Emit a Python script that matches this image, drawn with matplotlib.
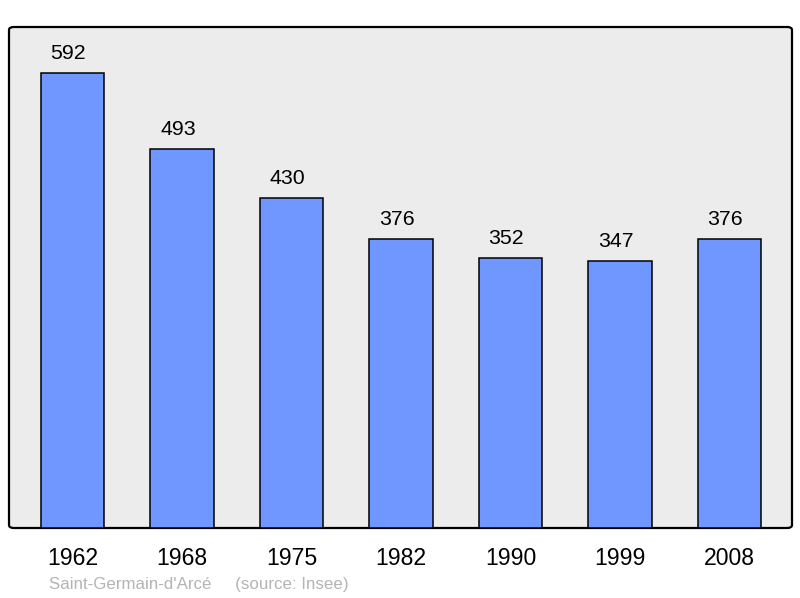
import matplotlib
matplotlib.use("Agg")
import matplotlib.pyplot as plt
from matplotlib.patches import FancyBboxPatch

years = ["1962", "1968", "1975", "1982", "1990", "1999", "2008"]
population = [592, 493, 430, 376, 352, 347, 376]
commune = "Saint-Germain-d'Arcé"
source = "(source: Insee)"

plt.rcParams['font.family'] = ['Liberation Sans', 'DejaVu Sans']

fig = plt.figure(figsize=(8, 5.98), dpi=100)
ax = fig.add_axes([9/800, 70/598, 783/800, 501/598])
ax.set_xlim(-0.58, 6.57)
ax.set_ylim(0, 652)
ax.patch.set_visible(False)
for s in ax.spines.values():
    s.set_visible(False)

bg = FancyBboxPatch((0, 0), 1, 1, boxstyle="round,pad=0,rounding_size=0.006",
                    transform=ax.transAxes, facecolor="#ececec", edgecolor="black",
                    linewidth=1.6, zorder=0, clip_on=False)
ax.add_patch(bg)

x = list(range(len(years)))
bars = ax.bar(x, population, width=0.577, color="#7096ff", edgecolor="black",
              linewidth=1.1, zorder=2)
for xi, v in zip(x, population):
    ax.annotate(str(v), (xi, v), xytext=(-3, 10), textcoords="offset points",
                ha="center", va="baseline", fontsize=15.3, color="black")

ax.set_xticks(x)
ax.set_xticklabels(years, fontsize=16.6)
ax.tick_params(axis="x", length=0, pad=13.5)
ax.set_yticks([])

fig.text(49/800, 1 - 589/598, commune + "     " + source, fontsize=12.2,
         color="#b4b4b4", ha="left", va="baseline")

fig.savefig("out.png", dpi=100)
